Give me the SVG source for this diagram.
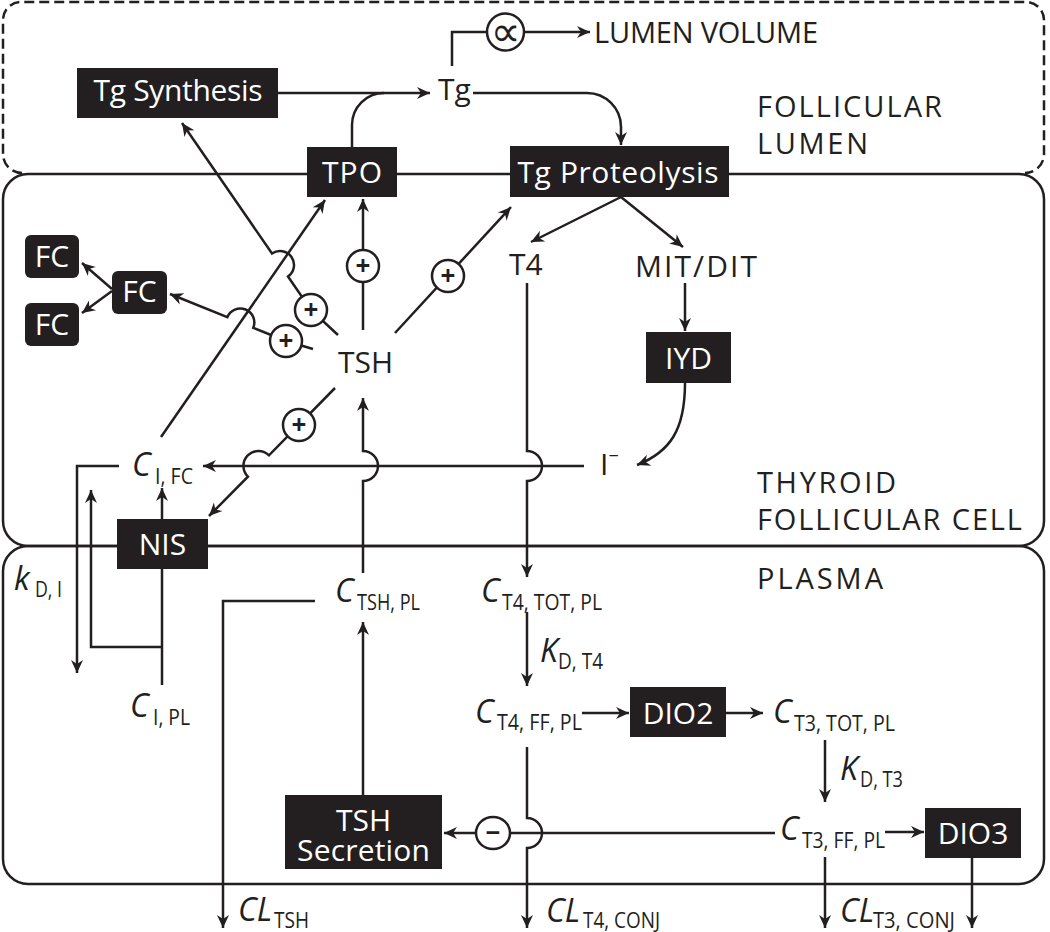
<svg xmlns="http://www.w3.org/2000/svg" width="1050" height="932" viewBox="0 0 1050 932">
<style>
.ln{fill:none;stroke:#231f20;stroke-width:2.5}
.ar{marker-end:url(#ah)}
.bx{fill:#231f20}
.wt{fill:#fff;font-family:"Open Sans","Liberation Sans",sans-serif;font-size:30px;text-anchor:middle}
.tx{fill:#231f20;font-family:"Open Sans","Liberation Sans",sans-serif;font-size:30px}
.rg{fill:#231f20;font-family:"Open Sans","Liberation Sans",sans-serif;font-size:29px}
.it{fill:#231f20;font-family:"Open Sans","Liberation Sans",sans-serif;font-size:32px;font-style:italic}
.sb{fill:#231f20;font-family:"Open Sans","Liberation Sans",sans-serif;font-size:21px}
.cir{fill:#fff;stroke:#231f20;stroke-width:2.5}
.sg{fill:#231f20;font-family:"Open Sans","Liberation Sans",sans-serif;font-size:26px;font-weight:bold;text-anchor:middle}
</style>
<defs>
<marker id="ah" markerUnits="userSpaceOnUse" markerWidth="16" markerHeight="14" viewBox="-14 -7 16 14" refX="0" refY="0" orient="auto">
<path d="M0,0 L-13,-6 L-9,0 L-13,6 Z" fill="#231f20"/>
</marker>
</defs>

<g id="compartments">
<path d="M22,173 A19,19 0 0 1 3,154 V20 A18,18 0 0 1 21,2 H1026 A18,18 0 0 1 1044,20 V154 A19,19 0 0 1 1025,173" fill="none" stroke="#231f20" stroke-width="2.5" stroke-dasharray="10,5"/>
<rect x="3" y="174" width="1041" height="372" rx="25" ry="25" fill="none" stroke="#231f20" stroke-width="2.5"/>
<rect x="3" y="546" width="1041" height="338" rx="25" ry="25" fill="none" stroke="#231f20" stroke-width="2.5"/>
<text class="rg" x="757" y="117" textLength="185">FOLLICULAR</text>
<text class="rg" x="757" y="154" textLength="111">LUMEN</text>
<text class="rg" x="757" y="493" textLength="139">THYROID</text>
<text class="rg" x="757" y="530" textLength="265">FOLLICULAR CELL</text>
<text class="rg" x="757" y="589" textLength="126">PLASMA</text>
</g>

<g id="connectors">
<path class="ln ar" d="M278,93 H430"/>
<path class="ln" d="M352,147 V125 A32,32 0 0 1 384,93"/>
<path class="ln" d="M452,66 V32 H487"/>
<path class="ln ar" d="M524,32 H590"/>
<path class="ln ar" d="M473,93 H587 A34,34 0 0 1 621,127 V145"/>
<path class="ln ar" d="M621,197 L531,242"/>
<path class="ln ar" d="M621,197 L683,247"/>
<path class="ln ar" d="M685,283 V331"/>
<path class="ln ar" d="M685,383 C685,430 670,452 637,465"/>
<path class="ln ar" d="M363,330 V199"/>
<path class="ln ar" d="M395,333 L511,207"/>
<path class="ln ar" d="M338,335 L311,310 L288,276.5 A14,14 0 0 0 272,253.5 L182,123"/>
<path class="ln ar" d="M313,349 L286,341 L253.3,327.8 A14,14 0 0 0 227.3,317.2 L170,294"/>
<path class="ln ar" d="M335,388 L269,455.3 A15,15 0 0 0 247.9,476.7 L209,516"/>
<path class="ln ar" d="M112,289 L82,263"/>
<path class="ln ar" d="M112,291 L82,313"/>
<path class="ln ar" d="M161,437 L325,200"/>
<path class="ln ar" d="M584,466 H203"/>
<path class="ln ar" d="M119,466 H77 V673"/>
<path class="ln ar" d="M162,685 V488"/>
<path class="ln ar" d="M162,647 H91 V490"/>
<path class="ln ar" d="M363,573 V481 A15,15 0 0 0 363,451 V398"/>
<path class="ln ar" d="M363,795 V622"/>
<path class="ln ar" d="M315,601 H223 V928"/>
<path class="ln ar" d="M527,283 V451 A15,15 0 0 1 527,481 V577"/>
<path class="ln ar" d="M527,612 V686"/>
<path class="ln ar" d="M527,747 V818 A15,15 0 0 1 527,848 V928"/>
<path class="ln ar" d="M582,713 H629"/>
<path class="ln ar" d="M726,713 H763"/>
<path class="ln ar" d="M825,740 V802"/>
<path class="ln ar" d="M885,832 H924"/>
<path class="ln ar" d="M775,833 H444"/>
<path class="ln ar" d="M825,857 V928"/>
<path class="ln ar" d="M972,858 V928"/>
</g>

<g id="modifiers">
<circle class="cir" cx="505.5" cy="32" r="18.5"/>
<text x="505.5" y="46" font-family="DejaVu Sans,sans-serif" font-size="42" text-anchor="middle" fill="#231f20">∝</text>
<circle class="cir" cx="363" cy="266" r="16"/><text class="sg" x="363" y="275">+</text>
<circle class="cir" cx="448" cy="276" r="16"/><text class="sg" x="448" y="285">+</text>
<circle class="cir" cx="311" cy="310" r="16"/><text class="sg" x="311" y="319">+</text>
<circle class="cir" cx="286" cy="341" r="16"/><text class="sg" x="286" y="350">+</text>
<circle class="cir" cx="299" cy="425" r="16"/><text class="sg" x="299" y="434">+</text>
<ellipse class="cir" cx="493" cy="833" rx="17" ry="16"/><text class="sg" x="493" y="842">−</text>
</g>

<g id="node-tg-synthesis"><rect class="bx" x="77" y="68" width="201" height="50"/><text class="wt" x="178" y="101" textLength="169">Tg Synthesis</text></g>
<g id="node-tpo"><rect class="bx" x="307" y="147" width="90" height="50"/><text class="wt" x="352" y="183" textLength="60">TPO</text></g>
<g id="node-tg-proteolysis"><rect class="bx" x="510" y="146" width="219" height="51"/><text class="wt" x="618" y="183" textLength="201">Tg Proteolysis</text></g>
<g id="node-fc"><rect class="bx" x="112" y="271" width="55" height="43" rx="6"/><text class="wt" x="139.5" y="302" font-size="28">FC</text></g>
<g id="node-fc-a"><rect class="bx" x="25" y="235" width="54" height="43" rx="6"/><text class="wt" x="52" y="267" font-size="28">FC</text></g>
<g id="node-fc-b"><rect class="bx" x="25" y="303" width="54" height="43" rx="6"/><text class="wt" x="52" y="335" font-size="28">FC</text></g>
<g id="node-iyd"><rect class="bx" x="646" y="332" width="85" height="51"/><text class="wt" x="688.5" y="369">IYD</text></g>
<g id="node-nis"><rect class="bx" x="117" y="519" width="91" height="50"/><text class="wt" x="162.5" y="555">NIS</text></g>
<g id="node-dio2"><rect class="bx" x="630" y="687" width="96" height="50"/><text class="wt" x="678" y="724">DIO2</text></g>
<g id="node-dio3"><rect class="bx" x="925" y="808" width="96" height="50"/><text class="wt" x="973" y="844">DIO3</text></g>
<g id="node-tsh-secretion"><rect class="bx" x="285" y="795" width="157" height="74"/><text class="wt" x="363.5" y="831" font-size="28">TSH</text><text class="wt" x="363.5" y="861" font-size="28" textLength="133">Secretion</text></g>

<g id="node-tg"><text class="tx" x="438" y="100">Tg</text></g>
<g id="node-lumen-volume"><text class="rg" x="594" y="43" textLength="224">LUMEN VOLUME</text></g>
<g id="node-t4"><text class="tx" x="509" y="275">T4</text></g>
<g id="node-mitdit"><text class="tx" x="635" y="277" textLength="122">MIT/DIT</text></g>
<g id="node-tsh"><text class="tx" x="338" y="373" font-size="31" textLength="55">TSH</text></g>
<g id="node-iodide"><text class="tx" x="600" y="475">I<tspan font-size="18" dy="-13">−</tspan></text></g>

<g id="node-ci-fc"><text class="it" x="132" y="476">C</text><text class="sb" x="155" y="484" textLength="38" lengthAdjust="spacingAndGlyphs">I, FC</text></g>
<g id="node-ci-pl"><text class="it" x="130" y="717">C</text><text class="sb" x="153" y="725" textLength="37" lengthAdjust="spacingAndGlyphs">I, PL</text></g>
<g id="node-kd-i"><text class="it" x="14" y="590">k</text><text class="sb" x="35" y="597" textLength="27" lengthAdjust="spacingAndGlyphs">D, I</text></g>
<g id="node-ctsh-pl"><text class="it" x="335" y="602">C</text><text class="sb" x="357" y="610" textLength="63" lengthAdjust="spacingAndGlyphs">TSH, PL</text></g>
<g id="node-ct4-tot"><text class="it" x="481" y="602">C</text><text class="sb" x="502" y="610" textLength="100" lengthAdjust="spacingAndGlyphs">T4, TOT, PL</text></g>
<g id="node-kd-t4"><text class="it" x="540" y="662">K</text><text class="sb" x="558" y="669" textLength="45" lengthAdjust="spacingAndGlyphs">D, T4</text></g>
<g id="node-ct4-ff"><text class="it" x="475" y="723">C</text><text class="sb" x="497" y="730" textLength="85" lengthAdjust="spacingAndGlyphs">T4, FF, PL</text></g>
<g id="node-ct3-tot"><text class="it" x="773" y="723">C</text><text class="sb" x="794" y="731" textLength="101" lengthAdjust="spacingAndGlyphs">T3, TOT, PL</text></g>
<g id="node-kd-t3"><text class="it" x="840" y="780">K</text><text class="sb" x="860" y="787" textLength="43" lengthAdjust="spacingAndGlyphs">D, T3</text></g>
<g id="node-ct3-ff"><text class="it" x="780" y="840">C</text><text class="sb" x="802" y="848" textLength="83" lengthAdjust="spacingAndGlyphs">T3, FF, PL</text></g>
<g id="node-cl-tsh"><text class="it" x="238" y="921">CL</text><text class="sb" x="274" y="928" textLength="35" lengthAdjust="spacingAndGlyphs">TSH</text></g>
<g id="node-cl-t4"><text class="it" x="546" y="922">CL</text><text class="sb" x="583" y="928" textLength="77" lengthAdjust="spacingAndGlyphs">T4, CONJ</text></g>
<g id="node-cl-t3"><text class="it" x="840" y="922">CL</text><text class="sb" x="873" y="928" textLength="82" lengthAdjust="spacingAndGlyphs">T3, CONJ</text></g>
</svg>
